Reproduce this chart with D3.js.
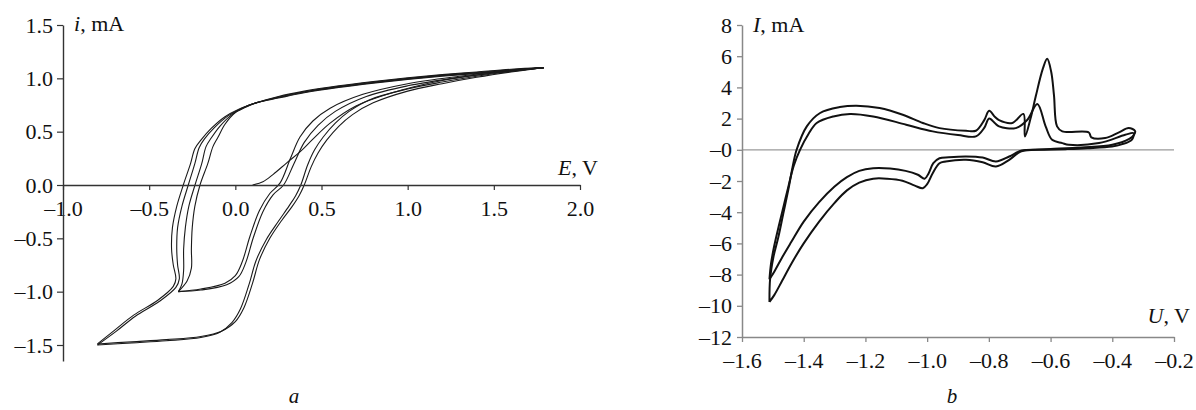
<!DOCTYPE html>
<html>
<head>
<meta charset="utf-8">
<script src="https://cdn.jsdelivr.net/npm/d3@7"></script>
<style>
  body { margin: 0; background: #fff; }
  text { font-family: 'Liberation Serif', 'Times New Roman', serif; }
</style>
</head>
<body>
<svg id="mainsvg" width="1196" height="410"></svg>
<script>
// panel a: ticks and labels
const aXTicks = [-1.0, -0.5, 0.0, 0.5, 1.0, 1.5, 2.0];
const aXLabels = ['–1.0', '–0.5', '0.0', '0.5', '1.0', '1.5', '2.0'];
const aYTicks = [1.5, 1.0, 0.5, 0.0, -0.5, -1.0, -1.5];
const aYLabels = ['1.5', '1.0', '0.5', '0.0', '–0.5', '–1.0', '–1.5'];

// panel a: curves [E, i]
const aStart = [[0.10, 0.0], [0.16, 0.03], [0.22, 0.1], [0.3, 0.21], [0.375, 0.31], [0.45, 0.43], [0.55, 0.58], [0.7, 0.74], [0.9, 0.86], [1.2, 0.98], [1.5, 1.05], [1.79, 1.10]];
const aDown1 = [[1.79, 1.10], [1.6, 1.085], [1.4, 1.06], [1.2, 1.035], [1.0, 1.005], [0.8, 0.97], [0.6, 0.93], [0.4, 0.88], [0.25, 0.83], [0.12, 0.77], [0.02, 0.71], [-0.06, 0.64], [-0.14, 0.53], [-0.2, 0.42], [-0.235, 0.34], [-0.26, 0.2], [-0.302, 0], [-0.34, -0.2], [-0.365, -0.4], [-0.37, -0.6], [-0.36, -0.75], [-0.345, -0.88], [-0.36, -0.95], [-0.45, -1.08], [-0.59, -1.22], [-0.70, -1.36], [-0.80, -1.49]];
const aDown2 = [[1.79, 1.10], [1.6, 1.08], [1.4, 1.055], [1.2, 1.03], [1.0, 1.0], [0.8, 0.965], [0.6, 0.925], [0.4, 0.875], [0.25, 0.825], [0.12, 0.77], [0.04, 0.72], [-0.04, 0.65], [-0.12, 0.54], [-0.18, 0.43], [-0.21, 0.35], [-0.235, 0.2], [-0.273, 0], [-0.31, -0.2], [-0.335, -0.4], [-0.34, -0.6], [-0.335, -0.75], [-0.325, -0.88], [-0.345, -0.96], [-0.44, -1.09], [-0.58, -1.23], [-0.69, -1.37], [-0.80, -1.5]];
const aDown3 = [[1.79, 1.10], [1.6, 1.075], [1.4, 1.05], [1.2, 1.025], [1.0, 0.995], [0.8, 0.96], [0.6, 0.92], [0.4, 0.87], [0.25, 0.82], [0.12, 0.77], [0.06, 0.73], [-0.02, 0.66], [-0.09, 0.55], [-0.14, 0.44], [-0.17, 0.36], [-0.195, 0.2], [-0.234, 0], [-0.27, -0.2], [-0.29, -0.4], [-0.3, -0.6], [-0.3, -0.8], [-0.31, -0.93], [-0.331, -1.0]];
const aDown4 = [[1.79, 1.10], [1.6, 1.07], [1.4, 1.045], [1.2, 1.02], [1.0, 0.99], [0.8, 0.955], [0.6, 0.915], [0.4, 0.865], [0.25, 0.815], [0.12, 0.77], [0.08, 0.75], [0.0, 0.68], [-0.06, 0.57], [-0.1, 0.45], [-0.13, 0.36], [-0.16, 0.2], [-0.205, 0], [-0.235, -0.2], [-0.25, -0.4], [-0.255, -0.6], [-0.255, -0.78], [-0.28, -0.9], [-0.331, -1.0]];
const aSmall1 = [[-0.331, -1.0], [-0.2, -0.975], [-0.06, -0.92], [0.0, -0.85], [0.04, -0.72], [0.085, -0.48], [0.14, -0.24], [0.2, -0.08], [0.26, 0.02], [0.32, 0.25], [0.375, 0.45], [0.45, 0.6], [0.55, 0.72], [0.74, 0.85], [1.0, 0.95], [1.3, 1.02], [1.6, 1.075], [1.79, 1.10]];
const aSmall2 = [[-0.331, -1.0], [-0.2, -0.985], [-0.05, -0.935], [0.02, -0.86], [0.06, -0.73], [0.105, -0.49], [0.16, -0.25], [0.22, -0.09], [0.28, 0.0], [0.34, 0.2], [0.4, 0.4], [0.48, 0.56], [0.58, 0.69], [0.76, 0.83], [1.0, 0.93], [1.3, 1.01], [1.6, 1.07], [1.79, 1.10]];
const aBig1 = [[-0.80, -1.49], [-0.6, -1.47], [-0.4, -1.45], [-0.2, -1.42], [-0.08, -1.37], [0.0, -1.28], [0.05, -1.15], [0.1, -0.92], [0.14, -0.7], [0.2, -0.5], [0.27, -0.33], [0.33, -0.2], [0.37, -0.1], [0.40, 0.0], [0.44, 0.17], [0.48, 0.3], [0.53, 0.42], [0.6, 0.55], [0.68, 0.66], [0.8, 0.77], [1.0, 0.88], [1.2, 0.95], [1.4, 1.01], [1.6, 1.06], [1.79, 1.10]];
const aBig2 = [[-0.80, -1.5], [-0.6, -1.48], [-0.4, -1.46], [-0.2, -1.43], [-0.09, -1.38], [-0.02, -1.29], [0.03, -1.16], [0.08, -0.93], [0.12, -0.71], [0.18, -0.51], [0.25, -0.34], [0.31, -0.2], [0.35, -0.1], [0.38, 0.0], [0.42, 0.19], [0.46, 0.33], [0.51, 0.45], [0.58, 0.58], [0.66, 0.69], [0.78, 0.8], [1.0, 0.9], [1.2, 0.965], [1.4, 1.02], [1.6, 1.065], [1.79, 1.10]];

// panel b: ticks and labels
const bXTicks = [-1.6, -1.4, -1.2, -1.0, -0.8, -0.6, -0.4, -0.2];
const bXLabels = ['–1.6', '–1.4', '–1.2', '–1.0', '–0.8', '–0.6', '–0.4', '–0.2'];
const bYTicks = [8, 6, 4, 2, 0, -2, -4, -6, -8, -10, -12];
const bYLabels = ['8', '6', '4', '2', '–0', '–2', '–4', '–6', '–8', '–10', '–12'];

// panel b: curves [U, I]
const bLoopA = [[-1.511, -9.75], [-1.509, -8.3], [-1.498, -6.86], [-1.482, -5.58], [-1.466, -4.07], [-1.45, -2.57], [-1.437, -1.2], [-1.423, 0], [-1.39, 1.5], [-1.347, 2.36], [-1.283, 2.74], [-1.229, 2.83], [-1.154, 2.68], [-1.079, 2.25], [-1.014, 1.72], [-0.96, 1.39], [-0.874, 1.22], [-0.842, 1.22], [-0.815, 1.9], [-0.799, 2.5], [-0.78, 2.1], [-0.767, 1.9], [-0.724, 1.72], [-0.688, 2.3], [-0.683, 0.86], [-0.665, 2.0], [-0.648, 3.43], [-0.625, 5.2], [-0.611, 5.83], [-0.598, 5.0], [-0.589, 3.5], [-0.579, 1.5], [-0.562, 1.18], [-0.476, 1.11], [-0.468, 0.8], [-0.423, 0.75], [-0.38, 1.1], [-0.347, 1.4], [-0.326, 1.2], [-0.33, 0.95], [-0.345, 0.7], [-0.40, 0.32], [-0.5, 0.15], [-0.6, 0.05], [-0.65, 0.0], [-0.697, -0.11], [-0.734, -0.64], [-0.777, -1.07], [-0.82, -0.8], [-0.874, -0.64], [-0.94, -0.75], [-0.96, -0.86], [-0.982, -1.5], [-1.0, -2.2], [-1.014, -2.46], [-1.04, -2.3], [-1.08, -1.98], [-1.13, -1.85], [-1.175, -1.85], [-1.22, -2.1], [-1.26, -2.6], [-1.3, -3.4], [-1.35, -4.6], [-1.4, -6.0], [-1.44, -7.3], [-1.47, -8.4], [-1.495, -9.3], [-1.511, -9.75]];
const bLoopB = [[-1.511, -8.3], [-1.506, -7.3], [-1.496, -6.2], [-1.481, -4.9], [-1.465, -3.6], [-1.449, -2.3], [-1.432, -1.0], [-1.412, 0], [-1.385, 1.0], [-1.358, 1.72], [-1.304, 2.14], [-1.25, 2.3], [-1.175, 2.14], [-1.068, 1.61], [-0.982, 1.18], [-0.9, 0.95], [-0.842, 0.86], [-0.815, 1.4], [-0.799, 2.0], [-0.78, 1.7], [-0.767, 1.5], [-0.713, 1.39], [-0.675, 1.93], [-0.643, 2.94], [-0.616, 1.5], [-0.595, 0.64], [-0.562, 0.43], [-0.541, 0.32], [-0.443, 0.43], [-0.358, 0.96], [-0.331, 1.07], [-0.337, 0.64], [-0.37, 0.35], [-0.401, 0.21], [-0.48, 0.1], [-0.552, 0.04], [-0.62, 0.0], [-0.693, -0.04], [-0.734, -0.43], [-0.777, -0.75], [-0.82, -0.5], [-0.874, -0.43], [-0.93, -0.48], [-0.96, -0.54], [-0.98, -0.86], [-0.995, -1.5], [-1.008, -1.85], [-1.03, -1.6], [-1.07, -1.35], [-1.12, -1.2], [-1.175, -1.18], [-1.22, -1.35], [-1.26, -1.75], [-1.3, -2.35], [-1.35, -3.35], [-1.4, -4.6], [-1.44, -5.9], [-1.47, -6.9], [-1.495, -7.8], [-1.511, -8.3]];

const svg = d3.select('#mainsvg');
const fontSize = 22;

// ---------- panel a ----------
const xa = d3.scaleLinear().domain([-1, 2]).range([63, 580]);
const ya = d3.scaleLinear().domain([-1.65, 1.5]).range([361, 25]);
const ga = svg.append('g').attr('id', 'panel-a');

const lineA = d3.line().x(d => xa(d[0])).y(d => ya(d[1])).curve(d3.curveCatmullRom.alpha(0.5));
ga.selectAll('path.cv')
  .data([aStart, aDown1, aDown2, aDown3, aDown4, aSmall1, aSmall2, aBig1, aBig2])
  .join('path')
  .attr('class', 'cv')
  .attr('d', lineA)
  .attr('fill', 'none')
  .attr('stroke', '#1a1a1a')
  .attr('stroke-width', 1.1);

const axAx = ga.append('g')
  .attr('transform', `translate(0, ${ya(0)})`)
  .call(d3.axisBottom(xa).tickValues(aXTicks).tickFormat((d, i) => aXLabels[i])
    .tickSize(5).tickSizeOuter(0).tickPadding(10));
const axAy = ga.append('g')
  .attr('transform', `translate(${xa(-1)}, 0)`)
  .call(d3.axisLeft(ya).tickValues(aYTicks).tickFormat((d, i) => aYLabels[i])
    .tickSize(6).tickSizeOuter(0).tickPadding(4));
[axAx, axAy].forEach(ax => {
  ax.select('.domain').attr('stroke', '#333').attr('stroke-width', 1.4);
  ax.selectAll('.tick line').attr('stroke', '#333').attr('stroke-width', 1.2);
  ax.selectAll('.tick text').attr('font-size', fontSize).attr('fill', '#111')
    .attr('font-family', "'Liberation Serif', serif");
});

ga.append('text').attr('x', 74).attr('y', 31).attr('font-size', 22).attr('fill', '#111')
  .html('<tspan font-style="italic">i</tspan>, mA');
ga.append('text').attr('x', 558).attr('y', 175).attr('font-size', 22).attr('fill', '#111')
  .html('<tspan font-style="italic">E</tspan>, V');
ga.append('text').attr('x', 294).attr('y', 403).attr('font-size', 21).attr('fill', '#111')
  .attr('text-anchor', 'middle').attr('font-style', 'italic').text('a');

// ---------- panel b ----------
const xb = d3.scaleLinear().domain([-1.6, -0.2]).range([742, 1174]);
const yb = d3.scaleLinear().domain([-12, 8]).range([337, 25]);
const gb = svg.append('g').attr('id', 'panel-b');

gb.append('line')
  .attr('x1', xb(-1.6)).attr('x2', xb(-0.2))
  .attr('y1', yb(0)).attr('y2', yb(0))
  .attr('stroke', '#9a9a9a').attr('stroke-width', 1.3);

const axBx = gb.append('g')
  .attr('transform', `translate(0, ${yb(-12)})`)
  .call(d3.axisBottom(xb).tickValues(bXTicks).tickFormat((d, i) => bXLabels[i])
    .tickSize(5).tickSizeOuter(0).tickPadding(10));
const axBy = gb.append('g')
  .attr('transform', `translate(${xb(-1.6)}, 0)`)
  .call(d3.axisLeft(yb).tickValues(bYTicks).tickFormat((d, i) => bYLabels[i])
    .tickSize(5).tickSizeOuter(0).tickPadding(5));
[axBx, axBy].forEach(ax => {
  ax.select('.domain').attr('stroke', '#888').attr('stroke-width', 1.5);
  ax.selectAll('.tick line').attr('stroke', '#888').attr('stroke-width', 1.3);
  ax.selectAll('.tick text').attr('font-size', fontSize).attr('fill', '#111')
    .attr('font-family', "'Liberation Serif', serif");
});

const lineB = d3.line().x(d => xb(d[0])).y(d => yb(d[1])).curve(d3.curveCatmullRom.alpha(0.5));
gb.selectAll('path.cv')
  .data([bLoopA, bLoopB])
  .join('path')
  .attr('class', 'cv')
  .attr('d', lineB)
  .attr('fill', 'none')
  .attr('stroke', '#111')
  .attr('stroke-width', 2)
  .attr('stroke-linejoin', 'round');

gb.append('text').attr('x', 753).attr('y', 32).attr('font-size', 22).attr('fill', '#111')
  .html('<tspan font-style="italic">I</tspan>, mA');
gb.append('text').attr('x', 1190).attr('y', 323).attr('font-size', 22).attr('fill', '#111')
  .attr('text-anchor', 'end')
  .html('<tspan font-style="italic">U</tspan>, V');
gb.append('text').attr('x', 952).attr('y', 403).attr('font-size', 21).attr('fill', '#111')
  .attr('text-anchor', 'middle').attr('font-style', 'italic').text('b');
</script>
</body>
</html>
